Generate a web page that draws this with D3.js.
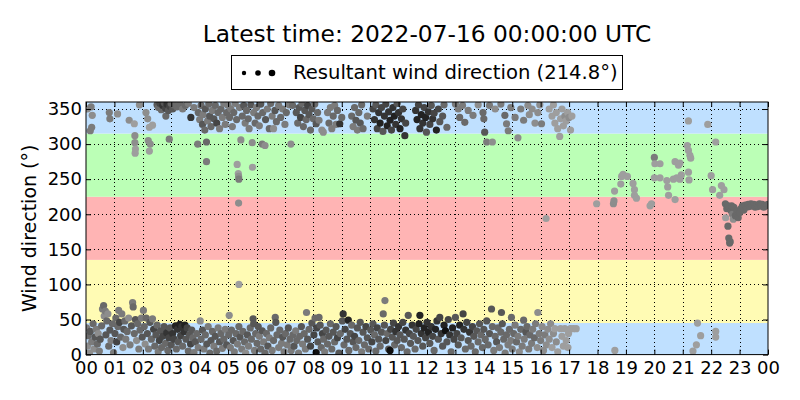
<!DOCTYPE html>
<html>
<head>
<meta charset="utf-8">
<script src="https://cdn.jsdelivr.net/npm/d3@7"></script>
<style>
body { margin: 0; background: white; }
text { font-family: "DejaVu Sans", sans-serif; }
</style>
</head>
<body>
<script>
// observations: [hour of day, direction (deg), wind speed -> shade]
var lowNorth = [
	[0.02,38,4],[0.05,12,3],[0.08,27,5],[0.12,2,3],[0.15,33,6],[0.2,18,4],[0.25,44,5],[0.28,8,3],[0.32,25,6],[0.36,36,4],[0.4,15,5],[0.43,30,3],[0.47,5,4],[0.5,22,6],[0.55,41,5],[0.58,65,4],[0.62,70,5],[0.64,55,3],[0.68,62,4],[0.7,28,6],[0.73,48,5],[0.77,58,3],[0.8,12,5],[0.84,35,6],[0.88,20,4],[0.93,44,5],[0.97,3,4],
	[1.02,30,6],[1.05,52,5],[1.08,18,7],[1.12,40,5],[1.15,63,4],[1.18,46,7],[1.22,25,5],[1.26,58,4],[1.3,10,3],[1.33,36,6],[1.37,48,5],[1.4,22,4],[1.45,33,5],[1.5,52,3],[1.55,14,4],[1.6,41,6],[1.64,74,4],[1.66,68,5],[1.7,30,5],[1.74,50,6],[1.78,20,3],[1.82,44,5],[1.86,8,4],[1.9,35,5],[1.95,52,4],[1.98,25,6],
	[2.02,63,4],[2.05,40,5],[2.08,15,3],[2.12,52,5],[2.16,30,6],[2.2,8,4],[2.25,46,6],[2.3,22,5],[2.34,51,4],[2.38,36,7],[2.42,12,5],[2.46,28,6],[2.5,42,5],[2.54,4,4],[2.58,20,7],[2.62,34,6],[2.66,10,5],[2.7,26,7],[2.75,40,6],[2.8,16,5],[2.84,31,8],[2.88,6,5],[2.92,24,7],[2.96,38,6],
	[3.0,14,6],[3.05,30,8],[3.1,22,7],[3.15,41,9],[3.18,8,5],[3.22,36,8],[3.25,18,6],[3.3,43,9],[3.33,27,7],[3.37,40,8],[3.4,12,5],[3.45,33,8],[3.48,42,9],[3.52,22,6],[3.56,38,7],[3.6,5,5],[3.64,28,6],[3.68,15,7],[3.72,35,6],[3.76,24,5],[3.8,3,4],[3.85,18,6],[3.9,30,5],[3.95,10,4],
	[4.02,48,3],[4.05,22,5],[4.1,35,6],[4.15,8,4],[4.2,28,5],[4.25,15,6],[4.3,40,4],[4.36,2,5],[4.4,20,6],[4.45,33,5],[4.5,12,4],[4.55,26,6],[4.6,5,5],[4.65,38,4],[4.7,18,6],[4.75,30,5],[4.8,9,4],[4.85,22,5],[4.9,36,4],[4.95,14,6],
	[5.02,28,5],[5.04,56,3],[5.08,10,4],[5.12,35,5],[5.18,20,6],[5.22,4,4],[5.28,30,5],[5.33,15,4],[5.38,40,5],[5.42,25,6],[5.48,8,4],[5.52,33,5],[5.58,18,5],[5.62,2,3],[5.68,28,6],[5.72,12,4],[5.78,38,5],[5.82,22,5],[5.88,51,6],[5.9,44,6],[5.93,6,4],[5.97,30,5],
	[6.02,16,5],[6.06,40,6],[6.1,26,4],[6.15,8,5],[6.2,34,6],[6.25,18,4],[6.3,2,5],[6.35,30,5],[6.4,12,6],[6.45,24,4],[6.5,38,5],[6.55,6,4],[6.6,20,5],[6.66,53,5],[6.68,46,6],[6.72,28,5],[6.78,10,4],[6.82,35,5],[6.88,16,4],[6.92,25,6],[6.97,4,4],
	[7.02,30,5],[7.08,14,4],[7.12,38,6],[7.18,22,5],[7.22,6,4],[7.28,28,5],[7.32,12,6],[7.38,34,4],[7.42,20,5],[7.48,2,4],[7.52,26,5],[7.58,40,6],[7.62,15,4],[7.68,30,5],[7.72,8,4],[7.76,60,4],[7.8,22,6],[7.85,36,5],[7.9,12,7],[7.95,45,6],
	[8.02,28,7],[8.06,52,5],[8.1,3,10],[8.12,38,7],[8.16,18,6],[8.2,53,5],[8.24,42,6],[8.28,10,5],[8.32,30,7],[8.36,22,5],[8.4,4,4],[8.45,35,6],[8.5,15,5],[8.55,26,6],[8.6,44,5],[8.65,8,5],[8.7,32,6],[8.75,18,5],[8.8,40,6],[8.85,24,7],[8.9,2,6],[8.95,30,5],
	[9.02,48,6],[9.05,58,8],[9.08,14,5],[9.12,36,7],[9.18,22,6],[9.23,49,9],[9.25,6,5],[9.3,30,6],[9.35,42,5],[9.4,18,6],[9.45,26,7],[9.5,10,5],[9.55,38,6],[9.6,20,5],[9.65,46,6],[9.7,4,4],[9.75,32,6],[9.8,14,5],[9.85,40,7],[9.9,24,6],[9.95,8,5],
	[10.02,35,6],[10.06,18,7],[10.1,44,6],[10.15,28,5],[10.2,5,5],[10.25,38,7],[10.3,22,6],[10.35,12,5],[10.4,32,6],[10.46,58,5],[10.5,42,6],[10.52,77,4],[10.55,20,7],[10.6,30,5],[10.65,8,6],[10.7,6,10],[10.72,36,7],[10.78,25,6],[10.82,45,7],[10.86,14,5],[10.9,33,8],[10.95,20,6],
	[11.0,40,8],[11.05,28,6],[11.1,10,5],[11.15,46,7],[11.2,22,6],[11.25,35,8],[11.3,4,5],[11.34,56,6],[11.38,30,7],[11.42,16,6],[11.48,42,8],[11.52,26,6],[11.58,8,5],[11.62,36,7],[11.68,20,6],[11.72,44,9],[11.75,56,9],[11.8,30,8],[11.85,12,6],[11.9,38,9],[11.95,24,7],
	[12.0,46,8],[12.05,32,9],[12.1,16,6],[12.15,40,8],[12.2,26,7],[12.25,6,5],[12.3,36,9],[12.35,48,8],[12.4,22,6],[12.45,53,7],[12.5,30,8],[12.55,12,6],[12.6,42,9],[12.65,34,10],[12.7,18,6],[12.75,50,7],[12.8,28,8],[12.85,4,5],[12.9,38,9],[12.95,22,7],[13.0,53,6],
	[13.05,30,7],[13.1,14,6],[13.15,42,9],[13.2,24,6],[13.27,58,7],[13.3,36,8],[13.35,8,5],[13.4,46,7],[13.45,20,6],[13.5,32,8],[13.55,12,5],[13.6,40,7],[13.65,26,6],[13.7,4,5],[13.75,34,6],[13.8,18,5],[13.85,44,6],[13.9,28,5],[13.95,10,5],
	[14.0,36,6],[14.05,22,5],[14.1,48,6],[14.15,14,5],[14.2,30,6],[14.27,65,6],[14.3,40,5],[14.35,6,4],[14.4,26,5],[14.45,18,6],[14.5,38,5],[14.55,10,4],[14.6,32,5],[14.62,60,6],[14.65,44,6],[14.7,22,5],[14.75,2,4],[14.8,28,5],[14.85,14,4],[14.9,36,5],[14.95,20,4],[14.97,53,5],
	[15.0,8,4],[15.05,30,5],[15.1,42,4],[15.15,18,5],[15.2,26,4],[15.25,4,3],[15.3,36,5],[15.35,12,4],[15.4,49,5],[15.42,22,4],[15.48,32,6],[15.52,40,5],[15.58,8,4],[15.62,28,5],[15.68,16,4],[15.72,36,4],[15.78,24,5],[15.82,44,4],[15.88,10,3],[15.9,60,3],[15.95,30,4],
	[16.0,20,4],[16.05,40,3],[16.1,6,3],[16.15,28,4],[16.2,14,3],[16.25,36,3],[16.3,22,3],[16.35,44,3],[16.4,10,2],[16.45,30,3],[16.5,37,2],[16.55,18,3],[16.6,4,2],[16.7,37,2],[16.75,26,2],[16.8,12,2],[16.85,37,2],[16.9,20,2],[16.96,10,2],[16.98,30,2],[17.05,37,2],[17.15,37,2],[17.25,37,2]
];

var highNorth = [
	[0.05,350,3],[0.18,353,4],[0.22,341,3],[0.2,324,4],[0.15,319,4],[0.82,345,4],[0.84,336,4],[1.11,343,3],[1.52,334,3],[1.7,329,2],
	[1.72,312,3],[1.72,302,3],[1.74,293,2],[1.73,287,2],[1.88,356,3],[2.11,345,3],[2.17,336,3],[2.19,305,3],[2.26,300,3],[2.23,290,2],[2.23,324,2],[2.34,327,2],
	[2.5,356,6],[2.55,352,5],[2.6,358,7],[2.65,349,5],[2.7,355,8],[2.75,359,6],[2.8,351,7],[2.81,340,5],[2.85,357,8],[2.9,348,6],[2.93,307,4],[2.95,354,7],[3.0,358,5],[3.05,350,6],[3.1,356,5],[3.2,353,5],[3.3,357,5],[3.4,350,4],[3.5,355,5],[3.6,358,4],[3.69,338,8],
	[3.8,352,4],[3.93,300,4],[3.95,345,5],[4.0,335,4],[4.05,355,5],[4.1,328,6],[4.12,342,4],[4.18,320,5],[4.2,350,6],[4.24,303,5],[4.24,275,4],[4.28,333,4],[4.32,357,5],[4.35,340,6],[4.4,325,5],[4.45,348,4],[4.5,336,6],[4.55,355,5],[4.6,330,7],[4.65,345,5],[4.7,322,4],[4.75,350,5],[4.8,338,4],[4.85,358,4],[4.9,328,4],[4.95,345,5],
	[5.0,355,4],[5.05,338,5],[5.1,350,4],[5.15,325,4],[5.2,345,5],[5.25,358,4],[5.3,335,5],[5.32,271,2],[5.36,258,2],[5.37,254,3],[5.38,250,4],[5.37,216,3],[5.38,100,2],[5.4,352,4],[5.45,306,3],[5.5,340,5],[5.55,355,6],[5.6,330,4],[5.65,348,5],[5.71,336,5],[5.74,322,4],[5.8,356,6],[5.85,302,3],[5.86,267,2],[5.9,345,4],[5.95,330,5],
	[6.0,352,4],[6.05,340,5],[6.1,326,4],[6.15,357,6],[6.2,300,4],[6.22,345,5],[6.3,298,3],[6.32,335,6],[6.38,350,4],[6.45,322,5],[6.5,358,5],[6.55,340,4],[6.6,322,3],[6.65,348,6],[6.7,332,5],[6.78,355,4],[6.85,338,5],[6.92,350,4],[7.0,328,4],[7.05,345,5],[7.15,356,4],[7.21,300,3],[7.27,355,5],
	[7.4,345,6],[7.45,330,5],[7.5,352,6],[7.55,338,7],[7.6,358,5],[7.65,325,5],[7.7,348,6],[7.75,335,5],[7.8,355,7],[7.85,342,6],[7.9,320,5],[7.95,350,6],[8.0,336,5],[8.05,357,5],[8.1,329,6],[8.15,345,5],[8.2,334,4],[8.3,320,3],[8.35,317,3],
	[8.5,345,4],[8.55,330,5],[8.6,352,4],[8.65,322,4],[8.7,340,5],[8.75,355,4],[8.8,328,4],[8.85,348,5],[8.93,329,8],[9.0,338,5],[9.35,340,5],[9.4,325,4],[9.45,352,5],[9.5,334,6],[9.55,320,4],[9.6,345,5],[9.65,330,6],[9.7,356,5],[9.75,322,5],[9.9,340,4],
	[10.1,350,7],[10.15,335,8],[10.2,356,6],[10.25,322,7],[10.3,345,8],[10.35,330,9],[10.4,352,7],[10.45,318,6],[10.5,340,8],[10.55,357,7],[10.6,326,9],[10.65,346,8],[10.7,334,9],[10.75,320,7],[10.8,352,8],[10.85,340,9],[10.9,328,8],[10.95,358,6],[11.0,345,8],[11.05,322,9],[11.1,336,8],[11.15,350,7],[11.22,312,8],[11.25,330,7],
	[11.6,348,8],[11.65,335,9],[11.7,356,7],[11.75,322,8],[11.8,342,9],[11.85,330,8],[11.9,352,7],[11.95,338,9],[11.98,317,6],[12.05,346,8],[12.1,328,7],[12.15,355,6],[12.2,336,8],[12.25,344,7],[12.33,320,9],[12.4,350,7],[12.45,332,6],[12.55,340,6],[12.6,356,5],[12.7,324,5],
	[13.0,357,4],[13.1,350,4],[13.15,338,5],[13.25,355,4],[13.33,331,5],[13.45,348,4],[13.62,341,4],[13.8,356,3],[13.97,345,5],[14.0,336,5],[14.03,317,6],[14.1,303,4],[14.2,355,4],[14.3,303,3],[14.4,350,3],
	[14.6,357,4],[14.74,341,5],[14.8,329,4],[14.86,319,4],[14.95,352,4],[15.1,338,4],[15.2,309,3],[15.3,350,4],[15.4,334,4],[15.55,355,3],[15.6,342,3],[15.7,350,3],[15.8,330,3],[15.9,345,3],[15.97,356,3],[16.03,329,4],[16.19,194,2],
	[16.3,350,2],[16.4,340,2],[16.45,356,2],[16.5,330,2],[16.55,345,2],[16.6,322,2],[16.67,311,2],[16.7,336,2],[16.75,350,2],[16.8,326,2],[16.85,340,3],[16.9,333,2],[16.95,345,2],[17.0,338,3],[17.05,320,2],[17.1,340,2]
];

var evening = [
	[17.97,215,2],[18.56,215,3],[18.58,219,3],[18.6,233,2],[18.61,6,2],[18.82,243,2],[18.85,254,2],[18.9,257,2],[19.05,254,2],[19.25,244,2],[19.3,235,2],[19.3,227,2],[19.37,223,2],[19.85,212,2],[19.9,215,2],
	[20.0,281,4],[20.02,272,2],[20.2,272,2],[20.0,252,2],[20.2,252,2],[20.44,248,2],[20.47,239,2],[20.5,227,2],[20.73,275,2],[20.85,270,2],[20.9,273,2],[20.67,250,2],[20.79,252,2],[20.73,221,2],[20.9,250,2],[20.95,256,2],
	[21.16,298,2],[21.2,291,2],[21.25,284,2],[21.28,280,2],[21.2,260,2],[21.22,249,2],[21.2,333,2],[21.36,5,2],[21.48,14,2],[21.52,45,2],[21.63,27,2],[21.88,328,2],[22.0,255,2],[22.05,235,2],[22.16,303,2],[22.16,33,2],[22.16,25,2],[22.3,227,2],[22.36,241,2],[22.45,235,2]
];

var lateSouthwest = [
	[22.5,215,5],[22.51,195,2],[22.55,208,5],[22.59,183,5],[22.6,212,5],[22.62,166,5],[22.65,159,5],[22.67,161,5],[22.7,205,5],[22.72,212,5],[22.75,200,4],[22.78,193,3],[22.8,210,5],[22.85,198,5],[22.9,205,5],[22.95,195,5],
	[23.0,202,5],[23.05,208,5],[23.1,212,5],[23.15,206,5],[23.2,213,5],[23.25,210,5],[23.3,214,5],[23.35,211,5],[23.4,215,5],[23.45,212,5],[23.5,214,5],[23.55,210,5],[23.6,213,5],[23.65,211,5],[23.7,215,5],[23.75,212,5],[23.8,214,5],[23.85,210,5],[23.9,212,5],[23.95,213,5],[24.0,214,5]
];

// direction sectors (deg) and their colours
var sectorEdges = [[0, 45], [45, 135], [135, 225], [225, 315], [315, 360]];
var sectorColors = ["#bfe0ff", "#fffbb4", "#ffb4b4", "#bbffb6", "#bfe0ff"];

var xTickLabels = ["00","01","02","03","04","05","06","07","08","09","10","11","12",
	"13","14","15","16","17","18","19","20","21","22","23","00"];
var yTicks = [0, 50, 100, 150, 200, 250, 300, 350];

var titleText = "Latest time: 2022-07-16 00:00:00 UTC";
var legendText = "Resultant wind direction (214.8°)";

var width = 800, height = 400;
var plotLeft = 86, plotRight = 768, plotTop = 102, plotBottom = 354.6;

var svg = d3.select("body")
	.append("svg")
		.attr("width", width)
		.attr("height", height);

svg.append("rect")
		.attr("width", width)
		.attr("height", height)
		.attr("fill", "white");

var x = d3.scaleLinear().domain([0, 24]).range([plotLeft, plotRight]);
var y = d3.scaleLinear().domain([0, 360]).range([plotBottom, plotTop]);
var shade = d3.scaleLinear().domain([0, 10]).range(["#c2c2c2", "#101010"]);

svg.append("clipPath")
		.attr("id", "plot")
	.append("rect")
		.attr("x", plotLeft)
		.attr("y", plotTop)
		.attr("width", plotRight - plotLeft)
		.attr("height", plotBottom - plotTop);

svg.append("g")
	.selectAll("rect")
		.data(sectorEdges)
	.enter()
	.append("rect")
		.attr("x", plotLeft)
		.attr("width", plotRight - plotLeft)
		.attr("y", function(d) { return y(d[1]); })
		.attr("height", function(d) { return y(d[0]) - y(d[1]); })
		.attr("fill", function(d, i) { return sectorColors[i]; });

// dotted grid
var grid = svg.append("g")
		.attr("stroke", "black")
		.attr("stroke-width", 1)
		.attr("stroke-dasharray", "1,3");

grid.selectAll("line.vx")
		.data(d3.range(1, 24))
	.enter()
	.append("line")
		.attr("x1", function(d) { return Math.round(x(d)) + 0.5; })
		.attr("x2", function(d) { return Math.round(x(d)) + 0.5; })
		.attr("y1", plotTop)
		.attr("y2", plotBottom);

grid.selectAll("line.hy")
		.data(yTicks.slice(1))
	.enter()
	.append("line")
		.attr("y1", function(d) { return Math.round(y(d)) + 0.5; })
		.attr("y2", function(d) { return Math.round(y(d)) + 0.5; })
		.attr("x1", plotLeft)
		.attr("x2", plotRight);

var points = lowNorth.concat(highNorth, evening, lateSouthwest)
	.sort(function(a, b) { return a[0] - b[0]; });

svg.append("g")
		.attr("clip-path", "url(#plot)")
	.selectAll("circle")
		.data(points)
	.enter()
	.append("circle")
		.attr("cx", function(d) { return x(d[0]); })
		.attr("cy", function(d) { return y(d[1]); })
		.attr("r", 3.6)
		.attr("fill", function(d) { return shade(d[2]); });

// axes, ticks pointing inward on all four sides
var xAxis = d3.axisBottom(x)
		.tickValues(d3.range(0, 25))
		.tickFormat(function(d) { return xTickLabels[d]; })
		.tickSizeInner(-5)
		.tickSizeOuter(0)
		.tickPadding(7);

var yAxis = d3.axisLeft(y)
		.tickValues(yTicks)
		.tickSizeInner(-5)
		.tickSizeOuter(0)
		.tickPadding(4);

var gx = svg.append("g")
		.attr("transform", "translate(0," + plotBottom + ")")
		.call(xAxis);
var gy = svg.append("g")
		.attr("transform", "translate(" + plotLeft + ",0)")
		.call(yAxis);

svg.append("g")
		.attr("transform", "translate(0," + plotTop + ")")
		.call(d3.axisTop(x).tickValues(d3.range(0, 25)).tickSizeInner(-5).tickSizeOuter(0).tickFormat(""));
svg.append("g")
		.attr("transform", "translate(" + plotRight + ",0)")
		.call(d3.axisRight(y).tickValues(yTicks).tickSizeInner(-5).tickSizeOuter(0).tickFormat(""));

svg.selectAll(".domain").remove();
svg.selectAll(".tick line").attr("stroke", "black");
gx.selectAll("text")
		.attr("font-size", 18)
		.attr("font-family", "DejaVu Sans")
		.attr("fill", "black");
gy.selectAll("text")
		.attr("font-size", 18)
		.attr("font-family", "DejaVu Sans")
		.attr("fill", "black");

svg.append("rect")
		.attr("x", plotLeft)
		.attr("y", plotTop)
		.attr("width", plotRight - plotLeft)
		.attr("height", plotBottom - plotTop)
		.attr("fill", "none")
		.attr("stroke", "black")
		.attr("stroke-width", 1);

svg.append("text")
		.attr("x", 36)
		.attr("y", (plotTop + plotBottom) / 2)
		.attr("transform", "rotate(-90,36," + ((plotTop + plotBottom) / 2) + ")")
		.attr("text-anchor", "middle")
		.attr("font-size", 19)
		.text("Wind direction (°)");

svg.append("text")
		.attr("x", (plotLeft + plotRight) / 2)
		.attr("y", 42)
		.attr("text-anchor", "middle")
		.attr("font-size", 23.3)
		.text(titleText);

// legend
svg.append("rect")
		.attr("x", 231.5)
		.attr("y", 55.5)
		.attr("width", 391)
		.attr("height", 34)
		.attr("fill", "white")
		.attr("stroke", "black");

svg.append("g")
	.selectAll("circle")
		.data([2.2, 2.8, 3.3])
	.enter()
	.append("circle")
		.attr("cx", function(d, i) { return 244 + i * 14; })
		.attr("cy", 73)
		.attr("r", function(d) { return d; })
		.attr("fill", "black");

svg.append("text")
		.attr("x", 293)
		.attr("y", 79)
		.attr("font-size", 19.6)
		.text(legendText);
</script>
</body>
</html>
